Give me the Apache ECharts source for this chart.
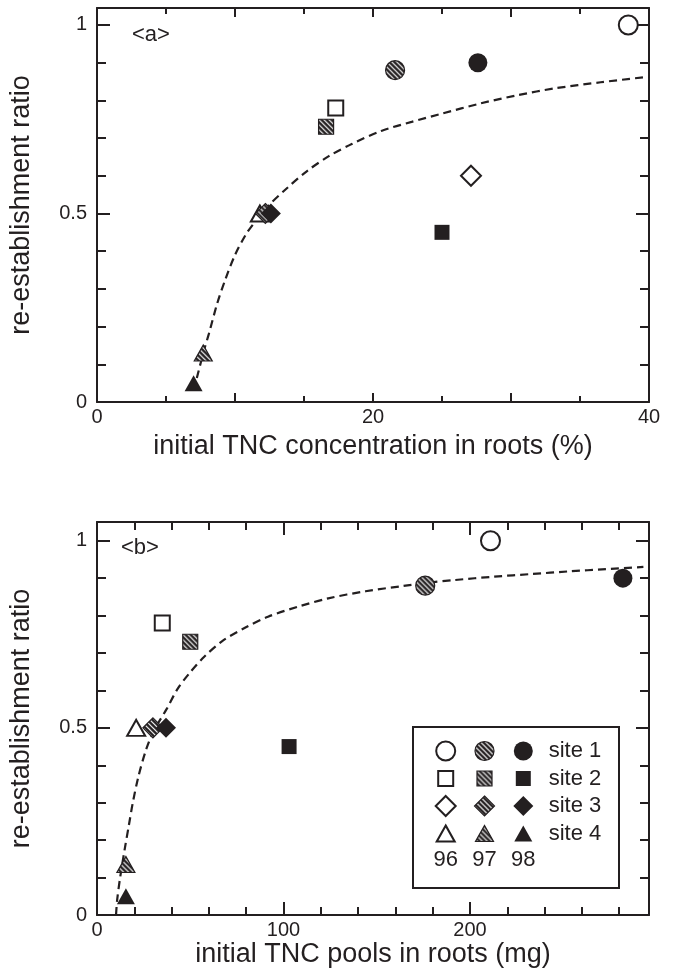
<!doctype html>
<html>
<head>
<meta charset="UTF-8">
<title>re-establishment ratio vs initial TNC</title>
<style>
    body { margin: 0; background: #fff; }
    #main { width: 675px; height: 969px; }
</style>
</head>
<body>
<div id="main"></div>
<script src="https://cdn.jsdelivr.net/npm/echarts@6/dist/echarts.min.js"></script>
<script>
    var years = ['96', '97', '98'];
    var sites = ['site 1', 'site 2', 'site 3', 'site 4'];

    // <a> initial TNC concentration in roots (%) vs ratio, points in year order 96, 97, 98
    var concSite1 = [[38.5, 1.00], [21.6, 0.88], [27.6, 0.90]];
    var concSite2 = [[17.3, 0.78], [16.6, 0.73], [25.0, 0.45]];
    var concSite3 = [[27.1, 0.60], [12.2, 0.50], [12.6, 0.50]];
    var concSite4 = [[11.8, 0.50], [7.7, 0.13], [7.0, 0.05]];

    // <b> initial TNC pools in roots (mg) vs ratio (site 3 / 96 is off the axis)
    var poolSite1 = [[211, 1.00], [176, 0.88], [282, 0.90]];
    var poolSite2 = [[35, 0.78], [50, 0.73], [103, 0.45]];
    var poolSite3 = [null, [30, 0.50], [37, 0.50]];
    var poolSite4 = [[21, 0.50], [15.5, 0.135], [15.5, 0.05]];

    // dashed fitted curves
    var fitConcX = [7.0, 7.35, 7.7, 8.1, 8.7, 9.3, 10.0, 10.8, 11.6, 12.4, 13.7, 15.2, 16.8, 18.5, 20.6, 22.8, 25.0, 27.8, 30.5, 33.2, 36.5, 40.0];
    var fitConcY = [0.03, 0.08, 0.13, 0.18, 0.26, 0.325, 0.39, 0.445, 0.485, 0.52, 0.565, 0.612, 0.652, 0.685, 0.719, 0.743, 0.765, 0.792, 0.814, 0.832, 0.848, 0.863];
    var fitPoolX = [10.2, 10.8, 12.4, 15.0, 17.1, 19.2, 22.2, 26.2, 30.2, 37.3, 43.3, 49.4, 57.5, 67.5, 79.6, 91.7, 108, 124, 144, 164, 176, 192, 213, 233, 253, 273, 293];
    var fitPoolY = [0.00, 0.04, 0.10, 0.18, 0.24, 0.30, 0.37, 0.44, 0.49, 0.55, 0.605, 0.645, 0.69, 0.733, 0.768, 0.797, 0.824, 0.846, 0.865, 0.879, 0.887, 0.895, 0.904, 0.911, 0.918, 0.924, 0.93];

    var ink = '#231f20';
    var font = 'Liberation Sans';
    var symbols = ['circle', 'rect', 'diamond', 'triangle'];
    var sizes = [19, 15, 20, [18, 16]];

    // small tile of white "\" stripes on black
    var tile = (function () {
        var s = 5, c = document.createElement('canvas');
        c.width = s; c.height = s;
        var g = c.getContext('2d');
        g.fillStyle = ink;
        g.fillRect(0, 0, s, s);
        g.strokeStyle = '#fff';
        g.lineWidth = 1.2;
        [-s, 0, s].forEach(function (o) {
            g.beginPath();
            g.moveTo(-1, o - 1);
            g.lineTo(s + 1, o + s + 1);
            g.stroke();
        });
        return c;
    })();

    // symbols are drawn at unit size and scaled up, so the pattern is scaled back down
    function yearStyle(j, site) {
        var sz = sizes[site], w = sz[0] || sz, h = sz[1] || sz;
        if (j === 0) return {color: '#fff', borderColor: ink, borderWidth: 2, opacity: 1};
        if (j === 1) return {
            color: {image: tile, repeat: 'repeat', scaleX: 2 / w, scaleY: 2 / h},
            borderColor: ink, borderWidth: 1.2, opacity: 1
        };
        return {color: ink, borderColor: ink, borderWidth: 0, opacity: 1};
    }

    function markers(points, site, xi, yi) {
        var data = [];
        points.forEach(function (p, j) {
            if (p) data.push({value: p, itemStyle: yearStyle(j, site)});
        });
        return {
            type: 'scatter', xAxisIndex: xi, yAxisIndex: yi, z: 3,
            symbol: symbols[site], symbolSize: sizes[site],
            itemStyle: {opacity: 1},
            data: data, silent: true
        };
    }

    function curve(xs, ys, xi, yi) {
        return {
            type: 'line', xAxisIndex: xi, yAxisIndex: yi, z: 2,
            showSymbol: false, smooth: 0.3, silent: true,
            lineStyle: {color: ink, width: 2.2, type: [8, 5]},
            data: xs.map(function (x, i) { return [x, ys[i]]; })
        };
    }

    var lineStyle = {color: ink, width: 2};
    var labelStyle = {color: ink, fontFamily: font, fontSize: 20};
    var nameStyle = {color: ink, fontFamily: font, fontSize: 27};

    // one pair of x axes (bottom + top) for a grid
    function xPair(grid, max, step, tick, showLine, label, name, gap) {
        var base = {
            gridIndex: grid, type: 'value', min: 0, max: max, interval: step,
            axisLine: {show: showLine, onZero: false, lineStyle: lineStyle},
            axisTick: {inside: true, length: tick, lineStyle: lineStyle},
            splitLine: {show: false}
        };
        var bottom = Object.assign({}, base, {
            position: 'bottom',
            axisLabel: label ? Object.assign({margin: 5, formatter: label}, labelStyle) : {show: false}
        });
        if (name) {
            bottom.name = name;
            bottom.nameLocation = 'middle';
            bottom.nameGap = gap;
            bottom.nameTextStyle = nameStyle;
        }
        var top = Object.assign({}, base, {position: 'top', axisLabel: {show: false}});
        return [bottom, top];
    }

    function yPair(grid, max, step, tick, showLine, label, name) {
        var base = {
            gridIndex: grid, type: 'value', min: 0, max: max, interval: step,
            axisLine: {show: showLine, onZero: false, lineStyle: lineStyle},
            axisTick: {inside: true, length: tick, lineStyle: lineStyle},
            splitLine: {show: false}
        };
        var left = Object.assign({}, base, {
            position: 'left',
            axisLabel: label ? Object.assign({margin: 10, formatter: label}, labelStyle) : {show: false}
        });
        if (name) {
            left.name = name;
            left.nameLocation = 'middle';
            left.nameGap = 62;
            left.nameTextStyle = nameStyle;
        }
        var right = Object.assign({}, base, {position: 'right', axisLabel: {show: false}});
        return [left, right];
    }

    function every(n) {
        return function (v) { return Math.abs(v / n - Math.round(v / n)) < 1e-6 ? String(+v.toFixed(1)) : ''; };
    }

    var rectA = {left: 97, top: 8, width: 552, height: 394};
    var rectB = {left: 97, top: 522, width: 552, height: 393};
    var yName = 're-establishment ratio';

    var xAxes = [].concat(
        xPair(0, 40, 5, 6, true, every(20), 'initial TNC concentration in roots (%)', 31),
        xPair(1, 40, 10, 9, false),
        xPair(2, 296, 20, 8, true, every(100), 'initial TNC pools in roots (mg)', 26),
        xPair(3, 296, 100, 13, false),
        [{gridIndex: 4, type: 'category', data: years, position: 'bottom',
          axisLine: {show: false}, axisTick: {show: false}, splitLine: {show: false},
          axisLabel: {color: ink, fontFamily: font, fontSize: 22, margin: 2, interval: 0}}]
    );
    var yAxes = [].concat(
        yPair(0, 1.045, 0.1, 9, true, every(0.5), yName),
        yPair(1, 1.045, 0.5, 13, false),
        yPair(2, 1.05, 0.1, 9, true, every(0.5), yName),
        yPair(3, 1.05, 0.5, 13, false),
        [{gridIndex: 4, type: 'category', data: sites, inverse: true, position: 'right',
          axisLine: {show: false}, axisTick: {show: false}, splitLine: {show: false},
          axisLabel: {color: ink, fontFamily: font, fontSize: 22, margin: 6, align: 'left', interval: 0}}]
    );

    var series = [
        curve(fitConcX, fitConcY, 0, 0),
        markers(concSite4, 3, 0, 0),
        markers(concSite3, 2, 0, 0),
        markers(concSite2, 1, 0, 0),
        markers(concSite1, 0, 0, 0),
        curve(fitPoolX, fitPoolY, 4, 4),
        markers(poolSite4, 3, 4, 4),
        markers(poolSite3, 2, 4, 4),
        markers(poolSite2, 1, 4, 4),
        markers(poolSite1, 0, 4, 4)
    ];

    // legend key: every site symbol in every year style
    sites.forEach(function (site, i) {
        series.push({
            type: 'scatter', xAxisIndex: 8, yAxisIndex: 8, z: 5, silent: true,
            symbol: symbols[i], symbolSize: sizes[i], itemStyle: {opacity: 1},
            data: years.map(function (yr, j) { return {value: [yr, site], itemStyle: yearStyle(j, i)}; })
        });
    });

    var myChart = echarts.init(document.getElementById('main'), null, {renderer: 'canvas'});
    var option = {
        backgroundColor: '#fff',
        animation: false,
        title: [
            {text: '<a>', left: 132, top: 24, padding: 0,
             textStyle: {color: ink, fontFamily: font, fontSize: 22, fontWeight: 'normal'}},
            {text: '<b>', left: 121, top: 537, padding: 0,
             textStyle: {color: ink, fontFamily: font, fontSize: 22, fontWeight: 'normal'}}
        ],
        grid: [
            rectA, rectA, rectB, rectB,
            {left: 426.3, top: 737.25, width: 116.4, height: 110}
        ],
        xAxis: xAxes,
        yAxis: yAxes,
        graphic: [{
            type: 'rect', silent: true,
            shape: {x: 413, y: 727, width: 206, height: 161},
            style: {fill: 'none', stroke: ink, lineWidth: 2}
        }],
        series: series
    };
    myChart.setOption(option);
</script>
</body>
</html>
